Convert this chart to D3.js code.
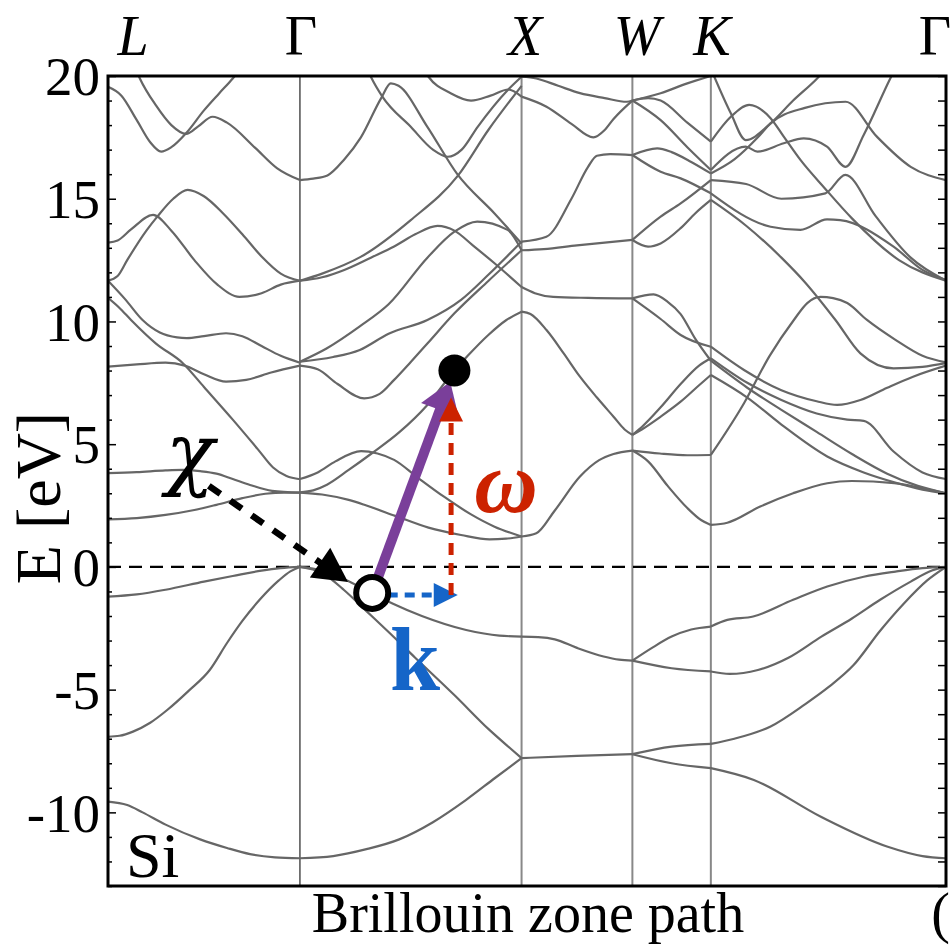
<!DOCTYPE html>
<html><head><meta charset="utf-8">
<script src="https://cdn.jsdelivr.net/npm/d3@7"></script>
<style>body{margin:0;background:#fff}</style>
</head><body>
<svg id="chart" width="952" height="947"></svg>
<script>
// High-symmetry points along the fcc Brillouin-zone path (distance in units of 2π/a)
const kPoints = [
  {label: "L", k: 0.000, italic: true,  lx: 133, anchor: "middle"},
  {label: "Γ", k: 0.866, italic: false, lx: 301, anchor: "middle"},
  {label: "X", k: 1.866, italic: true,  lx: 525, anchor: "middle"},
  {label: "W", k: 2.366, italic: true,  lx: 637, anchor: "middle"},
  {label: "K", k: 2.720, italic: true,  lx: 712, anchor: "middle"},
  {label: "Γ", k: 3.781, italic: false, lx: 951, anchor: "end"}
];
const yMajor = [20, 15, 10, 5, 0, -5, -10];
const yMinor = d3.range(-13, 21);

// Si bands, one array per path segment: [fraction along segment, energy (eV)]
const bandsLG = [
  [[0,-9.56],[0.1,-9.7],[0.18,-10.0],[0.3,-10.5],[0.48,-11.1],[0.62,-11.45],[0.74,-11.7],[0.87,-11.83],[1,-11.87]],
  [[0,-6.92],[0.06,-6.88],[0.13,-6.71],[0.22,-6.35],[0.31,-5.82],[0.42,-5.05],[0.53,-4.2],[0.62,-3.1],[0.7,-2.2],[0.79,-1.34],[0.89,-0.55],[0.95,-0.18],[1,0]],
  [[0,-1.21],[0.15,-1.12],[0.3,-0.93],[0.5,-0.6],[0.65,-0.37],[0.8,-0.15],[0.9,-0.05],[1,0]],
  [[0,1.94],[0.15,1.99],[0.3,2.12],[0.45,2.32],[0.565,2.53],[0.7,2.8],[0.82,2.98],[0.92,3.03],[1,3.03]],
  [[0,3.82],[0.15,3.86],[0.3,3.93],[0.39,3.95],[0.48,3.9],[0.565,3.8],[0.65,3.58],[0.74,3.34],[0.855,3.1],[1,3.03]],
  [[0,8.16],[0.15,8.25],[0.3,8.32],[0.4,8.2],[0.5,7.85],[0.615,7.55],[0.72,7.62],[0.85,7.92],[1,8.2]],
  [[0,10.96],[0.06,10.55],[0.12,10.06],[0.25,9.1],[0.39,8.3],[0.5,7.33],[0.65,6.0],[0.78,4.8],[0.86,4.05],[0.93,3.7],[1,3.57]],
  [[0,11.66],[0.09,10.9],[0.18,10.06],[0.27,9.55],[0.36,9.35],[0.41,9.32],[0.5,9.4],[0.615,9.52],[0.7,9.4],[0.8,9.0],[0.9,8.6],[1,8.32]],
  [[0,11.66],[0.05,11.85],[0.1,12.5],[0.2,13.7],[0.26,14.3],[0.34,15.0],[0.415,15.36],[0.5,15.1],[0.6,14.4],[0.7,13.55],[0.8,12.65],[0.9,11.95],[1,11.66]],
  [[0,13.21],[0.05,13.3],[0.12,13.75],[0.235,14.34],[0.33,13.7],[0.45,12.5],[0.57,11.5],[0.685,11.0],[0.8,11.15],[0.9,11.5],[1,11.66]],
  [[0.1,21.2],[0.166,19.9],[0.25,18.8],[0.33,18.0],[0.407,17.64],[0.47,17.95],[0.545,18.34],[0.62,18.1],[0.77,17.05],[0.88,16.25],[1,15.76]],
  [[0,19.56],[0.07,19.2],[0.15,18.2],[0.22,17.3],[0.277,16.92],[0.33,17.1],[0.41,17.7],[0.5,18.6],[0.58,19.3],[0.65,19.9],[0.72,20.6]]
];
const bandsGX = [
  [[0,-11.87],[0.15,-11.78],[0.3,-11.5],[0.448,-11.1],[0.6,-10.4],[0.75,-9.49],[0.88,-8.6],[1,-7.79]],
  [[0,0],[0.1,-0.15],[0.2,-0.5],[0.3,-0.95],[0.42,-1.5],[0.55,-2.0],[0.75,-2.57],[0.9,-2.8],[1,-2.84]],
  [[0,0],[0.1,-0.25],[0.2,-0.95],[0.3,-1.8],[0.4,-2.65],[0.52,-3.7],[0.7,-5.25],[0.85,-6.6],[0.95,-7.4],[1,-7.79]],
  [[0,3.03],[0.1,2.95],[0.22,2.73],[0.3,2.5],[0.43,2.08],[0.58,1.6],[0.727,1.3],[0.855,1.12],[0.93,1.15],[1,1.24]],
  [[0,3.58],[0.08,3.85],[0.16,4.3],[0.276,4.72],[0.35,4.62],[0.425,4.36],[0.53,3.65],[0.65,2.86],[0.77,2.15],[0.878,1.64],[1,1.24]],
  [[0,3.04],[0.06,3.12],[0.122,3.35],[0.22,3.95],[0.32,4.6],[0.45,5.5],[0.575,6.6],[0.697,8.0],[0.757,8.6],[0.85,9.45],[0.93,10.05],[1,10.4]],
  [[0,8.36],[0.12,8.9],[0.27,9.8],[0.4,10.7],[0.575,12.6],[0.697,13.66],[0.8,14.07],[0.937,13.73],[1,12.9]],
  [[0,8.36],[0.15,8.55],[0.27,8.84],[0.4,9.5],[0.575,10.06],[0.727,10.88],[0.85,11.9],[1,13.25]],
  [[0,8.2],[0.08,8.05],[0.17,7.45],[0.29,6.87],[0.36,7.05],[0.425,7.62],[0.5,8.35],[0.576,9.11],[0.697,10.33],[0.85,11.65],[1,12.9]],
  [[0,11.66],[0.1,11.8],[0.2,12.1],[0.32,12.6],[0.425,13.05],[0.52,13.55],[0.621,13.89],[0.697,13.7],[0.78,13.1],[0.878,12.37],[1,11.4]],
  [[0,11.66],[0.1,11.95],[0.276,12.64],[0.5,14.13],[0.712,15.93],[0.85,17.8],[1,19.6]],
  [[0,15.76],[0.06,15.82],[0.124,15.95],[0.2,16.6],[0.275,17.5],[0.366,19.09],[0.41,19.7],[0.445,19.6],[0.575,17.93],[0.71,16.0],[0.878,14.4],[1,13.18]],
  [[0.28,20.8],[0.32,19.97],[0.372,19.16],[0.5,17.93],[0.6,17.0],[0.667,16.71],[0.73,17.0],[0.802,17.93],[0.938,19.43],[1,19.97]],
  [[0.55,20.4],[0.58,19.97],[0.68,19.3],[0.772,19.0],[0.86,19.2],[0.94,19.45],[1,19.16]]
];
const bandsXW = [
  [[0,-7.79],[0.5,-7.7],[1,-7.63]],
  [[0,-2.84],[0.15,-2.86],[0.3,-2.95],[0.5,-3.3],[0.74,-3.65],[0.88,-3.78],[1,-3.82]],
  [[0,1.24],[0.133,1.37],[0.3,2.3],[0.527,3.68],[0.7,4.35],[0.83,4.6],[1,4.74]],
  [[0,10.4],[0.08,10.3],[0.225,9.65],[0.38,8.7],[0.527,7.75],[0.68,6.9],[0.83,6.12],[0.93,5.6],[1,5.38]],
  [[0,11.4],[0.12,11.15],[0.285,11.0],[0.6,10.96],[1,10.94]],
  [[0,12.9],[0.2,12.95],[0.5,13.1],[1,13.32]],
  [[0,13.25],[0.224,13.45],[0.45,15.0],[0.6,16.3],[0.68,16.75],[0.8,16.82],[1,16.78]],
  [[0,19.16],[0.225,18.75],[0.45,18.05],[0.648,17.5],[0.75,17.8],[0.83,18.25],[1,19.0]],
  [[0,19.97],[0.133,19.9],[0.33,19.6],[0.527,19.3],[0.75,19.1],[0.95,18.95],[1,19.0]]
];
const bandsWK = [
  [[0,-7.63],[0.5,-7.32],[1,-7.21]],
  [[0,-7.63],[0.5,-8.0],[1,-8.2]],
  [[0,-3.82],[0.25,-3.3],[0.5,-2.84],[0.75,-2.55],[1,-2.43]],
  [[0,-3.82],[0.5,-4.13],[1,-4.26]],
  [[0,4.74],[0.35,4.62],[0.7,4.55],[1,4.56]],
  [[0,4.74],[0.2,4.3],[0.45,3.3],[0.7,2.4],[0.88,1.9],[1,1.71]],
  [[0,5.38],[0.12,5.6],[0.36,6.12],[0.615,6.73],[0.85,7.4],[1,7.82]],
  [[0,5.38],[0.12,5.7],[0.36,6.5],[0.615,7.45],[0.85,8.2],[1,8.5]],
  [[0,10.94],[0.36,10.1],[0.615,9.45],[1,8.97]],
  [[0,10.94],[0.27,11.1],[0.45,10.8],[0.615,10.3],[0.8,9.3],[1,8.4]],
  [[0,13.32],[0.2,13.05],[0.36,13.18],[0.615,13.8],[0.8,14.4],[1,14.95]],
  [[0,13.32],[0.36,14.27],[0.615,14.81],[1,15.76]],
  [[0,16.78],[0.317,17.05],[0.5,16.9],[0.75,16.5],[1,16.03]],
  [[0,16.78],[0.36,16.1],[0.615,15.83],[1,15.22]],
  [[0,19.0],[0.2,19.1],[0.36,19.0],[0.7,18.1],[1,17.33]],
  [[0,19.0],[0.36,18.2],[0.7,17.1],[1,16.17]],
  [[0,19.0],[0.36,19.3],[0.7,19.7],[1,20.0]]
];
const bandsKG = [
  [[0,-8.2],[0.183,-8.68],[0.466,-10.17],[0.749,-11.39],[0.9,-11.78],[1,-11.87]],
  [[0,-7.21],[0.1,-7.0],[0.254,-6.5],[0.4,-5.6],[0.5,-4.9],[0.607,-4.0],[0.72,-2.6],[0.82,-1.5],[0.92,-0.55],[1,0]],
  [[0,-4.26],[0.08,-4.36],[0.2,-4.2],[0.33,-3.7],[0.47,-2.84],[0.6,-2.1],[0.72,-1.34],[0.85,-0.6],[0.94,-0.15],[1,0]],
  [[0,-2.43],[0.07,-2.16],[0.18,-2.02],[0.35,-1.34],[0.495,-0.8],[0.65,-0.4],[0.785,-0.19],[0.9,-0.05],[1,0]],
  [[0,1.71],[0.07,1.8],[0.21,2.46],[0.35,3.0],[0.495,3.41],[0.6,3.5],[0.78,3.41],[0.9,3.2],[1,3.0]],
  [[0,7.82],[0.155,6.9],[0.3,5.8],[0.495,4.5],[0.65,3.85],[0.78,3.45],[0.9,3.15],[1,3.0]],
  [[0,8.5],[0.155,7.5],[0.3,6.8],[0.45,6.25],[0.58,6.0],[0.65,5.95],[0.777,4.7],[0.9,3.85],[1,3.58]],
  [[0,8.4],[0.155,7.3],[0.3,6.4],[0.45,5.5],[0.6,4.6],[0.75,3.8],[0.88,3.3],[1,3.0]],
  [[0,8.97],[0.141,8.02],[0.3,7.2],[0.45,6.75],[0.537,6.6],[0.636,6.8],[0.75,7.3],[0.86,7.75],[1,8.2]],
  [[0,4.56],[0.141,6.67],[0.25,8.6],[0.353,10.06],[0.41,10.75],[0.466,11.0],[0.52,10.95],[0.58,10.75],[0.664,10.06],[0.785,9.25],[0.9,8.6],[1,8.33]],
  [[0,14.95],[0.15,13.9],[0.3,12.6],[0.4,11.6],[0.53,10.06],[0.636,8.7],[0.777,8.09],[0.9,8.15],[1,8.3]],
  [[0,15.22],[0.254,13.86],[0.381,13.73],[0.494,14.16],[0.55,14.13],[0.777,13.05],[0.9,12.1],[1,11.69]],
  [[0,15.76],[0.15,15.6],[0.3,15.0],[0.487,15.22],[0.572,15.97],[0.7,14.3],[0.85,12.6],[1,11.66]],
  [[0,17.33],[0.085,18.34],[0.163,18.82],[0.254,18.28],[0.31,17.53],[0.381,16.58],[0.487,15.4],[0.6,14.2],[0.8,12.5],[1,11.66]],
  [[0,16.17],[0.148,17.12],[0.198,16.92],[0.31,17.26],[0.395,17.46],[0.494,17.12],[0.573,16.3],[0.65,17.6],[0.763,19.9],[0.8,20.6]],
  [[0,16.03],[0.1,16.6],[0.2,17.5],[0.254,18.07],[0.4,18.7],[0.573,18.95],[0.706,17.53],[0.85,16.3],[1,15.76]],
  [[0,20.3],[0.085,18.48],[0.148,17.39],[0.254,18.07],[0.35,19.0],[0.452,19.9],[0.5,20.4]]
];

// optical transition sketch: initial (hole) and final (electron) states
const initialState = {k: 1.192, E: -1.06};
const finalState   = {k: 1.563, E: 8.0};
const chiArrow = {k0: 0.455, E0: 3.3, k1: 1.083, E1: -0.61};
const kArrow = {k0: 1.262, k1: 1.578, E: -1.14};
const omegaArrow = {k: 1.548, E0: -1.14, E1: 6.9};

const W = 952, H = 947;
const mL = 108, mR = 946, mT = 76, mB = 886;
const x = d3.scaleLinear().domain([0, 3.781]).range([mL, mR]);
const y = d3.scaleLinear().domain([-13, 20]).range([mB, mT]);
const serif = "'Liberation Serif','Times New Roman',Times,serif";

const svg = d3.select("#chart");
svg.append("rect").attr("width", W).attr("height", H).attr("fill", "#fff");
svg.append("defs").append("clipPath").attr("id", "plotclip")
  .append("rect").attr("x", mL).attr("y", mT).attr("width", mR - mL).attr("height", mB - mT);

const plot = svg.append("g").attr("clip-path", "url(#plotclip)");

// vertical lines at interior symmetry points
kPoints.slice(1, 5).forEach((p, i) => {
  plot.append("line")
    .attr("x1", x(p.k)).attr("x2", x(p.k)).attr("y1", mT).attr("y2", mB)
    .attr("stroke", i === 0 ? "#333" : "#888")
    .attr("stroke-width", i === 0 ? 1.3 : 2);
});

// valence band top reference
plot.append("line")
  .attr("x1", mL).attr("x2", mR).attr("y1", y(0)).attr("y2", y(0))
  .attr("stroke", "#000").attr("stroke-width", 2.2).attr("stroke-dasharray", "13,8");

// bands
const segments = [
  {from: 0, to: 1, bands: bandsLG},
  {from: 1, to: 2, bands: bandsGX},
  {from: 2, to: 3, bands: bandsXW},
  {from: 3, to: 4, bands: bandsWK},
  {from: 4, to: 5, bands: bandsKG}
];
segments.forEach(seg => {
  const k0 = kPoints[seg.from].k, k1 = kPoints[seg.to].k;
  const gen = d3.line()
    .x(d => x(k0 + d[0] * (k1 - k0)))
    .y(d => y(d[1]))
    .curve(d3.curveMonotoneX);
  plot.selectAll(null).data(seg.bands).enter().append("path")
    .attr("d", gen)
    .attr("fill", "none")
    .attr("stroke", "#666")
    .attr("stroke-width", 2.2)
    .attr("stroke-linejoin", "round");
});

// axes with inward ticks
const axL = svg.append("g").attr("transform", `translate(${mL},0)`)
  .call(d3.axisLeft(y).tickValues(yMinor.filter(v => v % 5 !== 0)).tickSize(-4).tickFormat(""));
const axL2 = svg.append("g").attr("transform", `translate(${mL},0)`)
  .call(d3.axisLeft(y).tickValues(yMajor).tickSize(-8).tickPadding(8).tickFormat(d => String(d)));
const axR = svg.append("g").attr("transform", `translate(${mR},0)`)
  .call(d3.axisRight(y).tickValues(yMinor).tickSize(-8).tickFormat(""));
[axL, axL2, axR].forEach(a => {
  a.select(".domain").remove();
  a.selectAll(".tick line").attr("stroke", "#000").attr("stroke-width", 1.5);
});
axL2.selectAll(".tick text")
  .attr("font-family", serif).attr("font-size", 55).attr("fill", "#000")
  .attr("dy", "0.34em");

// frame
svg.append("rect").attr("x", mL).attr("y", mT).attr("width", mR - mL).attr("height", mB - mT)
  .attr("fill", "none").attr("stroke", "#000").attr("stroke-width", 3);

// symmetry point labels
svg.selectAll(".klab").data(kPoints).enter().append("text")
  .attr("x", d => d.lx).attr("y", 55)
  .attr("text-anchor", d => d.anchor)
  .attr("font-family", serif).attr("font-size", 56)
  .attr("font-style", d => d.italic ? "italic" : "normal")
  .text(d => d.label);

// axis titles
svg.append("text").attr("transform", "translate(60,498) rotate(-90)")
  .attr("text-anchor", "middle").attr("font-family", serif).attr("font-size", 64).text("E [eV]");
svg.append("text").attr("x", 528).attr("y", 932).attr("text-anchor", "middle")
  .attr("font-family", serif).attr("font-size", 56).text("Brillouin zone path");
svg.append("text").attr("x", 950).attr("y", 932).attr("text-anchor", "end")
  .attr("font-family", serif).attr("font-size", 56).text("(");
svg.append("text").attr("x", 126).attr("y", 877)
  .attr("font-family", serif).attr("font-size", 64).text("Si");

// ---- transition annotations ----
const ann = svg.append("g");
function head(tip, dir, len, half) {
  const n = Math.hypot(dir[0], dir[1]);
  const u = [dir[0] / n, dir[1] / n], p = [-u[1], u[0]];
  const b = [tip[0] - u[0] * len, tip[1] - u[1] * len];
  return [tip, [b[0] + p[0] * half, b[1] + p[1] * half], [b[0] - p[0] * half, b[1] - p[1] * half]];
}

// chi: dashed black arrow
{
  const a = [x(chiArrow.k0), y(chiArrow.E0)], b = [x(chiArrow.k1), y(chiArrow.E1)];
  const d = [b[0] - a[0], b[1] - a[1]], n = Math.hypot(d[0], d[1]);
  const hb = [b[0] - d[0] / n * 30, b[1] - d[1] / n * 30];
  ann.append("line").attr("x1", a[0]).attr("y1", a[1]).attr("x2", hb[0]).attr("y2", hb[1])
    .attr("stroke", "#000").attr("stroke-width", 6.5).attr("stroke-dasharray", "14,12");
  ann.append("polygon").attr("points", head(b, d, 34, 18).join(" ")).attr("fill", "#000");
}
// purple transition arrow
const pi = [x(initialState.k), y(initialState.E)], pf = [x(finalState.k), y(finalState.E)];
{
  const d = [pf[0] - pi[0], pf[1] - pi[1]], n = Math.hypot(d[0], d[1]);
  const tip = [pf[0] - d[0] / n * 12, pf[1] - d[1] / n * 12];
  const hb = [tip[0] - d[0] / n * 26, tip[1] - d[1] / n * 26];
  ann.append("line").attr("x1", pi[0]).attr("y1", pi[1]).attr("x2", hb[0]).attr("y2", hb[1])
    .attr("stroke", "#7a3f9a").attr("stroke-width", 10);
  ann.append("polygon").attr("points", head(tip, d, 30, 20).join(" ")).attr("fill", "#7a3f9a");
}
// k: blue dashed horizontal arrow
{
  const a = [x(kArrow.k0), y(kArrow.E)], b = [x(kArrow.k1), y(kArrow.E)];
  ann.append("line").attr("x1", a[0]).attr("y1", a[1]).attr("x2", b[0] - 22).attr("y2", b[1])
    .attr("stroke", "#1565c8").attr("stroke-width", 5).attr("stroke-dasharray", "10,7");
  ann.append("polygon").attr("points", head(b, [1, 0], 24, 12).join(" ")).attr("fill", "#1565c8");
}
// omega: red dashed vertical arrow
{
  const a = [x(omegaArrow.k), y(omegaArrow.E0)], b = [x(omegaArrow.k), y(omegaArrow.E1)];
  ann.append("line").attr("x1", a[0]).attr("y1", a[1]).attr("x2", b[0]).attr("y2", b[1] + 22)
    .attr("stroke", "#cc2200").attr("stroke-width", 5).attr("stroke-dasharray", "12,8");
  ann.append("polygon").attr("points", head(b, [0, -1], 24, 12).join(" ")).attr("fill", "#cc2200");
}
// initial (hollow) and final (filled) states
ann.append("circle").attr("cx", pi[0]).attr("cy", pi[1]).attr("r", 16)
  .attr("fill", "#fff").attr("stroke", "#000").attr("stroke-width", 6);
ann.append("circle").attr("cx", pf[0]).attr("cy", pf[1]).attr("r", 16).attr("fill", "#000");

ann.append("text").attr("x", 190).attr("y", 480).attr("text-anchor", "middle")
  .attr("font-family", "'DejaVu Serif',serif").attr("font-style", "italic").attr("font-size", 80).text("χ");
ann.append("text").attr("x", 506).attr("y", 512).attr("text-anchor", "middle")
  .attr("font-family", serif).attr("font-style", "italic").attr("font-weight", "bold")
  .attr("font-size", 88).attr("fill", "#cc2200").text("ω");
ann.append("text").attr("x", 415).attr("y", 690).attr("text-anchor", "middle")
  .attr("font-family", serif).attr("font-weight", "bold")
  .attr("font-size", 90).attr("fill", "#1565c8").text("k");
</script>
</body></html>
